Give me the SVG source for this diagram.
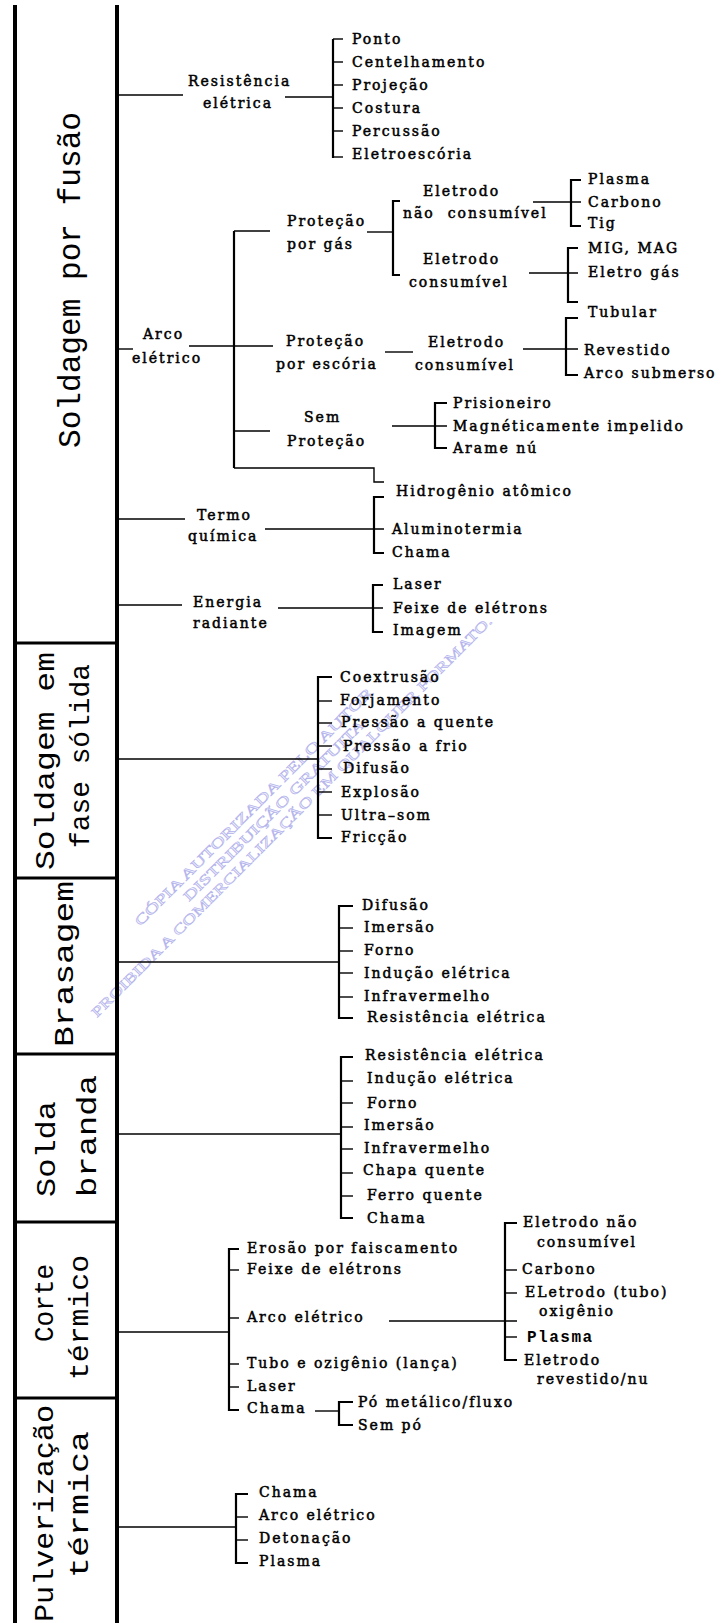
<svg xmlns="http://www.w3.org/2000/svg" width="722" height="1623" viewBox="0 0 722 1623">
<style>
.t{font-family:"DejaVu Serif",serif;font-size:14px;letter-spacing:2px;fill:#000;stroke:#000;stroke-width:0.5}
.pm{font-family:"Liberation Mono",monospace;font-size:16px;font-weight:bold;letter-spacing:1.5px;fill:#000}
.v{font-family:"Liberation Mono",monospace;fill:#000}
.c line,.c path{stroke:#000;stroke-width:1.4;fill:none}
.c .b{stroke-width:2.2}
.frame{stroke:#000;fill:none}
.wm{font-family:"Liberation Serif",serif;font-size:14px;fill:#f2f2fd;stroke:#b4b4ec;stroke-width:0.6;text-anchor:middle}
</style>
<rect width="722" height="1623" fill="#fff"/>
<g id="watermark" transform="translate(295,820) rotate(-45)">
<text class="wm" x="-20" y="-34" textLength="330" lengthAdjust="spacingAndGlyphs">CÓPIA AUTORIZADA PELO AUTOR</text>
<text class="wm" x="-8" y="-17" textLength="250" lengthAdjust="spacingAndGlyphs">DISTRIBUIÇÃO GRATUITA</text>
<text class="wm" x="0" y="0" textLength="560" lengthAdjust="spacingAndGlyphs">PROIBIDA A COMERCIALIZAÇÃO EM QUALQUER FORMATO.</text>
</g>
<g id="frame">
<line class="frame" x1="15" y1="5" x2="15" y2="1623" stroke-width="4"/>
<line class="frame" x1="117" y1="5" x2="117" y2="1623" stroke-width="4"/>
<line class="frame" x1="15" y1="643" x2="117" y2="643" stroke-width="3"/>
<line class="frame" x1="15" y1="878" x2="117" y2="878" stroke-width="3"/>
<line class="frame" x1="15" y1="1054" x2="117" y2="1054" stroke-width="3"/>
<line class="frame" x1="15" y1="1222" x2="117" y2="1222" stroke-width="3"/>
<line class="frame" x1="15" y1="1398" x2="117" y2="1398" stroke-width="3"/>
</g>
<g id="titles">
<g id="t-fusao"><text class="v" font-size="31" transform="translate(80,448) rotate(-90)" textLength="336" lengthAdjust="spacingAndGlyphs">Soldagem por fusão</text></g>
<g id="t-solida"><text class="v" font-size="27" transform="translate(54,870) rotate(-90)" textLength="218" lengthAdjust="spacingAndGlyphs">Soldagem em</text>
<text class="v" font-size="27" transform="translate(89,848) rotate(-90)" textLength="184" lengthAdjust="spacingAndGlyphs">fase sólida</text></g>
<g id="t-brasagem"><text class="v" font-size="28" transform="translate(73,1047) rotate(-90)" textLength="166" lengthAdjust="spacingAndGlyphs">Brasagem</text></g>
<g id="t-branda"><text class="v" font-size="27" transform="translate(55,1197) rotate(-90)" textLength="96" lengthAdjust="spacingAndGlyphs">Solda</text>
<text class="v" font-size="27" transform="translate(96,1197) rotate(-90)" textLength="122" lengthAdjust="spacingAndGlyphs">branda</text></g>
<g id="t-corte"><text class="v" font-size="27" transform="translate(53,1342) rotate(-90)" textLength="78" lengthAdjust="spacingAndGlyphs">Corte</text>
<text class="v" font-size="27" transform="translate(88,1380) rotate(-90)" textLength="125" lengthAdjust="spacingAndGlyphs">térmico</text></g>
<g id="t-pulv"><text class="v" font-size="27" transform="translate(53,1622) rotate(-90)" textLength="217" lengthAdjust="spacingAndGlyphs">Pulverização</text>
<text class="v" font-size="27" transform="translate(88,1578) rotate(-90)" textLength="147" lengthAdjust="spacingAndGlyphs">térmica</text></g>
</g>
<g id="connectors" class="c">
<line x1="117" y1="95" x2="183" y2="95"/>
<line x1="285" y1="97" x2="333" y2="97"/>
<line class="b" x1="333" y1="39" x2="333" y2="158"/>
<line x1="333" y1="39" x2="343" y2="39"/><line x1="333" y1="62" x2="343" y2="62"/><line x1="333" y1="85" x2="343" y2="85"/><line x1="333" y1="108" x2="343" y2="108"/><line x1="333" y1="131" x2="343" y2="131"/><line x1="333" y1="157" x2="343" y2="157"/>
<line x1="117" y1="349" x2="133" y2="349"/>
<line x1="189" y1="346" x2="273" y2="346"/>
<line class="b" x1="234" y1="231" x2="234" y2="468"/>
<line x1="234" y1="231" x2="270" y2="231"/>
<line x1="234" y1="431" x2="270" y2="431"/>
<path d="M234 468 H374 V482 H384"/>
<line x1="367" y1="232" x2="393" y2="232"/>
<path class="b" d="M400 201 H393 V275 H400"/>
<line x1="533" y1="202" x2="581" y2="202"/>
<path class="b" d="M581 180 H571 V226 H581"/>
<line x1="529" y1="273" x2="578" y2="273"/>
<path class="b" d="M578 248 H568 V302 H578"/>
<line x1="385" y1="352" x2="413" y2="352"/>
<line x1="523" y1="349" x2="578" y2="349"/>
<path class="b" d="M578 318 H566 V375 H578"/>
<line x1="392" y1="426" x2="447" y2="426"/>
<path class="b" d="M447 403 H435 V448 H447"/>
<line x1="117" y1="519" x2="185" y2="519"/>
<line x1="265" y1="529" x2="384" y2="529"/>
<path class="b" d="M384 497 H374 V553 H384"/>
<line x1="117" y1="605" x2="182" y2="605"/>
<line x1="278" y1="608" x2="383" y2="608"/>
<path class="b" d="M383 585 H373 V632 H383"/>
<line x1="117" y1="759" x2="318" y2="759"/>
<path class="b" d="M332 677 H318 V838 H332"/>
<line x1="318" y1="701" x2="332" y2="701"/><line x1="318" y1="723" x2="332" y2="723"/><line x1="318" y1="746" x2="332" y2="746"/><line x1="318" y1="769" x2="332" y2="769"/><line x1="318" y1="792" x2="332" y2="792"/><line x1="318" y1="815" x2="332" y2="815"/>
<line x1="117" y1="962" x2="339" y2="962"/>
<path class="b" d="M353 906 H339 V1018 H353"/>
<line x1="339" y1="928" x2="353" y2="928"/><line x1="339" y1="951" x2="353" y2="951"/><line x1="339" y1="973" x2="353" y2="973"/><line x1="339" y1="997" x2="353" y2="997"/>
<line x1="117" y1="1134" x2="341" y2="1134"/>
<path class="b" d="M353 1057 H341 V1218 H353"/>
<line x1="341" y1="1081" x2="353" y2="1081"/><line x1="341" y1="1103" x2="353" y2="1103"/><line x1="341" y1="1127" x2="353" y2="1127"/><line x1="341" y1="1149" x2="353" y2="1149"/><line x1="341" y1="1173" x2="353" y2="1173"/><line x1="341" y1="1196" x2="353" y2="1196"/>
<line x1="117" y1="1332" x2="229" y2="1332"/>
<path class="b" d="M239 1249 H229 V1410 H239"/>
<line x1="229" y1="1270" x2="239" y2="1270"/><line x1="229" y1="1318" x2="239" y2="1318"/><line x1="229" y1="1364" x2="239" y2="1364"/><line x1="229" y1="1387" x2="239" y2="1387"/>
<line x1="389" y1="1321" x2="517" y2="1321"/>
<path class="b" d="M517 1223 H505 V1360 H517"/>
<line x1="505" y1="1270" x2="517" y2="1270"/><line x1="505" y1="1293" x2="517" y2="1293"/><line x1="505" y1="1337" x2="517" y2="1337"/>
<line x1="315" y1="1411" x2="339" y2="1411"/>
<path class="b" d="M353 1402 H339 V1425 H353"/>
<line x1="117" y1="1527" x2="236" y2="1527"/>
<path class="b" d="M248 1494 H236 V1563 H248"/>
<line x1="236" y1="1517" x2="248" y2="1517"/><line x1="236" y1="1540" x2="248" y2="1540"/>
</g>
<g id="nodes">
<g id="n-resist"><text class="t" x="188" y="86">Resistência</text><text class="t" x="203" y="108">elétrica</text></g>
<g id="n-ponto"><text class="t" x="352" y="44">Ponto</text></g>
<g id="n-centelh"><text class="t" x="352" y="67">Centelhamento</text></g>
<g id="n-projecao"><text class="t" x="352" y="90">Projeção</text></g>
<g id="n-costura"><text class="t" x="352" y="113">Costura</text></g>
<g id="n-percussao"><text class="t" x="352" y="136">Percussão</text></g>
<g id="n-eletroesc"><text class="t" x="352" y="159">Eletroescória</text></g>
<g id="n-arco"><text class="t" x="143" y="339">Arco</text><text class="t" x="132" y="363">elétrico</text></g>
<g id="n-pgas"><text class="t" x="287" y="226">Proteção</text><text class="t" x="287" y="249">por gás</text></g>
<g id="n-nconsum"><text class="t" x="423" y="196">Eletrodo</text><text class="t" x="403" y="218" xml:space="preserve">não  consumível</text></g>
<g id="n-plasma1"><text class="t" x="588" y="184">Plasma</text></g>
<g id="n-carbono1"><text class="t" x="588" y="207">Carbono</text></g>
<g id="n-tig"><text class="t" x="588" y="228">Tig</text></g>
<g id="n-consum1"><text class="t" x="423" y="264">Eletrodo</text><text class="t" x="409" y="287">consumível</text></g>
<g id="n-mig"><text class="t" x="588" y="253">MIG, MAG</text></g>
<g id="n-eletrogas"><text class="t" x="588" y="277">Eletro gás</text></g>
<g id="n-tubular"><text class="t" x="588" y="317">Tubular</text></g>
<g id="n-pesc"><text class="t" x="286" y="346">Proteção</text><text class="t" x="276" y="369">por escória</text></g>
<g id="n-consum2"><text class="t" x="428" y="347">Eletrodo</text><text class="t" x="415" y="370">consumível</text></g>
<g id="n-revestido"><text class="t" x="584" y="355">Revestido</text></g>
<g id="n-arcosub"><text class="t" x="584" y="378">Arco submerso</text></g>
<g id="n-semprot"><text class="t" x="304" y="422">Sem</text><text class="t" x="287" y="446">Proteção</text></g>
<g id="n-prision"><text class="t" x="453" y="408">Prisioneiro</text></g>
<g id="n-magnet"><text class="t" x="453" y="431" textLength="232" lengthAdjust="spacing">Magnéticamente impelido</text></g>
<g id="n-arame"><text class="t" x="453" y="453">Arame nú</text></g>
<g id="n-hidrog"><text class="t" x="396" y="496">Hidrogênio atômico</text></g>
<g id="n-termo"><text class="t" x="197" y="520">Termo</text><text class="t" x="188" y="541">química</text></g>
<g id="n-alumin"><text class="t" x="392" y="534">Aluminotermia</text></g>
<g id="n-chama1"><text class="t" x="392" y="557">Chama</text></g>
<g id="n-energia"><text class="t" x="193" y="607">Energia</text><text class="t" x="193" y="628">radiante</text></g>
<g id="n-laser1"><text class="t" x="393" y="589">Laser</text></g>
<g id="n-feixe1"><text class="t" x="393" y="613">Feixe de elétrons</text></g>
<g id="n-imagem"><text class="t" x="393" y="635">Imagem</text></g>
<g id="n-coextr"><text class="t" x="340" y="682">Coextrusão</text></g>
<g id="n-forjam"><text class="t" x="340" y="705">Forjamento</text></g>
<g id="n-pquente"><text class="t" x="341" y="727">Pressão a quente</text></g>
<g id="n-pfrio"><text class="t" x="343" y="751">Pressão a frio</text></g>
<g id="n-difusao1"><text class="t" x="343" y="773">Difusão</text></g>
<g id="n-explosao"><text class="t" x="341" y="797">Explosão</text></g>
<g id="n-ultrasom"><text class="t" x="341" y="820">Ultra–som</text></g>
<g id="n-friccao"><text class="t" x="341" y="842">Fricção</text></g>
<g id="n-difusao2"><text class="t" x="362" y="910">Difusão</text></g>
<g id="n-imersao1"><text class="t" x="364" y="932">Imersão</text></g>
<g id="n-forno1"><text class="t" x="364" y="955">Forno</text></g>
<g id="n-inducao1"><text class="t" x="364" y="978">Indução elétrica</text></g>
<g id="n-infra1"><text class="t" x="364" y="1001">Infravermelho</text></g>
<g id="n-resist2"><text class="t" x="367" y="1022">Resistência elétrica</text></g>
<g id="n-resist3"><text class="t" x="365" y="1060">Resistência elétrica</text></g>
<g id="n-inducao2"><text class="t" x="367" y="1083">Indução elétrica</text></g>
<g id="n-forno2"><text class="t" x="367" y="1108">Forno</text></g>
<g id="n-imersao2"><text class="t" x="364" y="1130">Imersão</text></g>
<g id="n-infra2"><text class="t" x="364" y="1153">Infravermelho</text></g>
<g id="n-chapa"><text class="t" x="363" y="1175">Chapa quente</text></g>
<g id="n-ferro"><text class="t" x="367" y="1200">Ferro quente</text></g>
<g id="n-chama2"><text class="t" x="367" y="1223">Chama</text></g>
<g id="n-erosao"><text class="t" x="247" y="1253">Erosão por faiscamento</text></g>
<g id="n-feixe2"><text class="t" x="247" y="1274">Feixe de elétrons</text></g>
<g id="n-arco2"><text class="t" x="247" y="1322">Arco elétrico</text></g>
<g id="n-tubo"><text class="t" x="247" y="1368">Tubo e ozigênio (lança)</text></g>
<g id="n-laser2"><text class="t" x="247" y="1391">Laser</text></g>
<g id="n-chama3"><text class="t" x="247" y="1413">Chama</text></g>
<g id="n-po"><text class="t" x="358" y="1407">Pó metálico/fluxo</text></g>
<g id="n-sempo"><text class="t" x="358" y="1430">Sem pó</text></g>
<g id="n-nconsum2"><text class="t" x="523" y="1227">Eletrodo não</text><text class="t" x="537" y="1247">consumível</text></g>
<g id="n-carbono2"><text class="t" x="522" y="1274">Carbono</text></g>
<g id="n-tuboox"><text class="t" x="525" y="1297">ELetrodo (tubo)</text><text class="t" x="539" y="1316">oxigênio</text></g>
<g id="n-plasma2"><text class="pm" x="527" y="1342">Plasma</text></g>
<g id="n-revnu"><text class="t" x="524" y="1365">Eletrodo</text><text class="t" x="537" y="1384">revestido/nu</text></g>
<g id="n-chama4"><text class="t" x="259" y="1497">Chama</text></g>
<g id="n-arco3"><text class="t" x="259" y="1520">Arco elétrico</text></g>
<g id="n-deton"><text class="t" x="259" y="1543">Detonação</text></g>
<g id="n-plasma3"><text class="t" x="259" y="1566">Plasma</text></g>
</g>
</svg>
